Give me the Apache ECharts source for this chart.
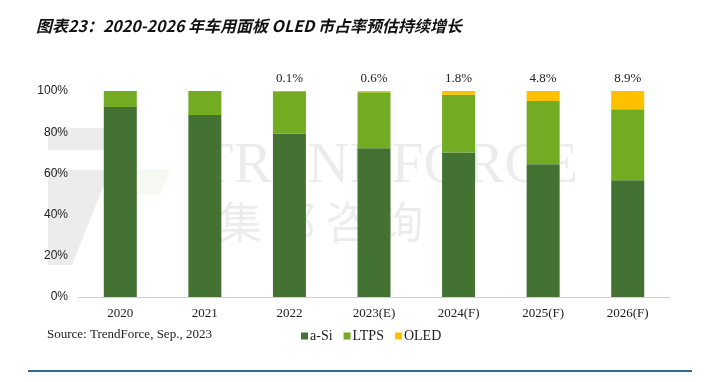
<!DOCTYPE html>
<html><head><meta charset="utf-8">
<script src="https://cdn.jsdelivr.net/npm/echarts@6/dist/echarts.min.js"></script>
<style>html,body{margin:0;padding:0;background:#fff}#c{width:709px;height:382px}</style>
</head><body><div id="c"></div>
<script>
const categories = ['2020','2021','2022','2023(E)','2024(F)','2025(F)','2026(F)'];
const aSi  = [92.2, 88.3, 79.4, 72.2, 70.2, 64.4, 56.7];
const oled = [0, 0, 0.1, 0.6, 1.8, 4.8, 8.9];
const ltps = aSi.map((v,i)=>+(100 - v - oled[i]).toFixed(1));
const oledLabels = ['', '', '0.1%', '0.6%', '1.8%', '4.8%', '8.9%'];

const chart = echarts.init(document.getElementById('c'));
const serif = '"Liberation Serif", "Times New Roman", serif';
const wm = 'rgba(0,0,0,0.075)';
chart.setOption({
  animation:false,
  backgroundColor:'#fff',
  title:{text:'图表23：2020-2026 年车用面板 OLED 市占率预估持续增长', left:31, top:13,
    textStyle:{fontFamily:'"Noto Sans CJK SC"', fontSize:16, fontWeight:'bold', fontStyle:'italic', color:'#111'}},
  graphic:[
    {type:'polygon', z:-1, shape:{points:[[48,128],[135,128],[135,150],[48,150]]}, style:{fill:wm}},
    {type:'polygon', z:-1, shape:{points:[[48,170],[110,170],[72,265],[48,265]]}, style:{fill:wm}},
    {type:'polygon', z:-1, shape:{points:[[115,170],[170,170],[160,195],[105,195]]}, style:{fill:'rgba(120,170,60,0.07)'}},
    {type:'text', left:198, top:138, z:-1, style:{text:'TRENDFORCE', font:'58px "Liberation Serif"', fill:wm}},
    {type:'text', left:218, top:200, z:-1, style:{text:'集 邦 咨 询', font:'44px "Noto Sans CJK SC"', fill:wm}},
    {type:'text', left:47, top:328, style:{text:'Source: TrendForce, Sep., 2023', font:'13px "Liberation Serif"', fill:'#222'}},
    {type:'line', shape:{x1:28,y1:371,x2:692,y2:371}, style:{stroke:'#2f6a93', lineWidth:2}}
  ],
  legend:{left:296, top:324, itemWidth:7, itemHeight:7, itemGap:11, icon:'rect',
    textStyle:{fontFamily:serif, fontSize:14, color:'#222', padding:[0,0,0,-3]},
    data:['a-Si','LTPS','OLED']},
  grid:{left:78, right:39, top:91, bottom:85},
  xAxis:{type:'category', data:categories,
    axisLine:{lineStyle:{color:'#d0d0d0'}}, axisTick:{show:false},
    axisLabel:{fontFamily:serif, fontSize:13, color:'#222', margin:10}},
  yAxis:{type:'value', min:0, max:100, interval:20,
    axisLabel:{formatter:v=>v+'%', fontFamily:'"Liberation Sans", sans-serif', fontSize:12, color:'#222', margin:10},
    splitLine:{show:false}, axisLine:{show:false}, axisTick:{show:false}},
  series:[
    {name:'a-Si', type:'bar', stack:'s', barWidth:33, data:aSi, itemStyle:{color:'#437233'}},
    {name:'LTPS', type:'bar', stack:'s', data:ltps, itemStyle:{color:'#73ac23'}},
    {name:'OLED', type:'bar', stack:'s', data:oled.map((v,i)=>({value:v,label:{show:!!oledLabels[i], formatter:oledLabels[i]}})),
      itemStyle:{color:'#ffc000'},
      label:{position:'top', distance:6, fontFamily:serif, fontSize:13, color:'#222'}}
  ]
});
</script></body></html>
